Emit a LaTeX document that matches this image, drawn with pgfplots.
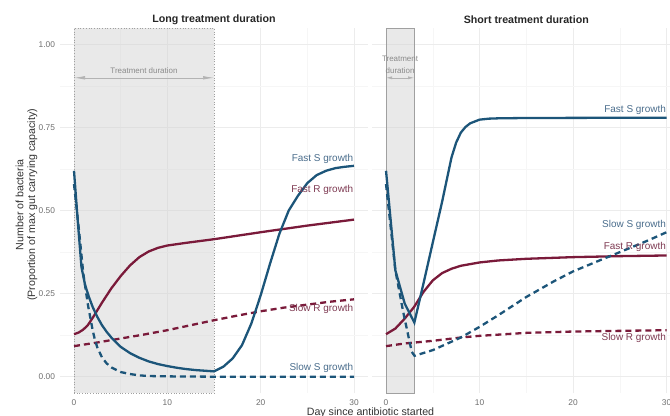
\documentclass[border=0pt]{standalone}
\usepackage{pgfplots}
\pgfplotsset{compat=1.18}
\usepackage{fontspec}
\setmainfont{Liberation Sans}
\usetikzlibrary{arrows.meta}
\definecolor{sblue}{HTML}{1C5579}
\definecolor{rred}{HTML}{7A1A3A}
\definecolor{lblue}{HTML}{4A6D8C}
\definecolor{lred}{HTML}{7E3A52}
\definecolor{ticktext}{HTML}{6E6E6E}
\definecolor{rectfill}{HTML}{D4D4D4}
\definecolor{rectline}{HTML}{A0A0A0}
\definecolor{trtext}{HTML}{8A8A8A}

\tikzset{
 sol/.style={line width=2.3bp, solid},
 dsh/.style={line width=2.3bp, dash pattern=on 6bp off 4bp},
 lab/.style={anchor=east, font=\fontsize{10}{11}\selectfont},
}
\pgfplotsset{
 panel/.style={
  scale only axis, height=365.3bp, anchor=south west,
  ymin=-0.05, ymax=1.05,
  xtick={0,10,20,30}, minor xtick={5,15,25},
  ytick={0,0.25,0.5,0.75,1}, minor ytick={0.125,0.375,0.625,0.875},
  grid=both,
  major grid style={draw=gray!15, line width=0.6bp},
  minor grid style={draw=gray!7, line width=0.5bp},
  axis line style={draw=none}, major tick style={draw=none}, minor tick style={draw=none},
  tick label style={font=\fontsize{8.4}{9}\selectfont, text=ticktext},
  /pgf/number format/assume math mode=true,
  yticklabel style={/pgf/number format/fixed, /pgf/number format/fixed zerofill, /pgf/number format/precision=2, xshift=-1.5bp},
  xticklabel style={yshift=-2.5bp},
  clip=false,
 },
}

\begin{document}
\begin{tikzpicture}
\useasboundingbox (0,0) rectangle (670bp,416bp);

% ---------------- Long treatment ----------------
\begin{axis}[panel, at={(60bp,22.7bp)}, width=308bp, xmin=-1.5, xmax=31.5]
\addplot[draw=rectline, dotted, line width=0.7bp, fill=rectfill, fill opacity=0.5]
  coordinates {(0,-0.05) (15,-0.05) (15,1.05) (0,1.05)} -- cycle;
\draw[rectline!80, line width=0.6bp, {Latex[length=11bp,width=3.5bp]}-{Latex[length=11bp,width=3.5bp]}]
  (axis cs:0,0.9) -- (axis cs:15,0.9);
\node[font=\fontsize{8}{9}\selectfont, text=trtext] at (axis cs:7.5,0.922) {Treatment duration};

% Slow R
\addplot[rred, dsh] coordinates {(0,0.092) (2.5,0.103) (5,0.115) (7.5,0.127) (10,0.14) (12.5,0.155) (15,0.17) (17.5,0.184) (20,0.197) (22.5,0.208) (25,0.217) (27.5,0.226) (30,0.233)};
% Fast R
\addplot[rred, sol] coordinates {(0,0.128) (0.5,0.133) (1,0.142) (1.5,0.156) (2,0.177) (2.5,0.2) (3,0.223) (4,0.266) (5,0.303) (6,0.335) (7,0.36) (8,0.377) (9,0.388) (10,0.395) (12,0.403) (15,0.414) (20,0.435) (25,0.455) (30,0.473)};
% Slow S
\addplot[sblue, dsh] coordinates {(0,0.58) (0.5,0.45) (1,0.31) (1.5,0.215) (2,0.14) (2.25,0.11) (2.5,0.088) (3,0.058) (3.5,0.04) (4,0.028) (5,0.014) (6,0.008) (7,0.004) (8,0.002) (10,0.001) (15,0) (30,0)};
% Fast S
\addplot[sblue, sol] coordinates {(0,0.62) (0.4,0.47) (0.8,0.33) (1.2,0.275) (1.6,0.24) (2,0.21) (2.5,0.18) (3,0.155) (3.5,0.135) (4,0.118) (5,0.09) (6,0.071) (7,0.057) (8,0.046) (9,0.038) (10,0.032) (11,0.027) (12,0.023) (13,0.02) (14,0.018) (15,0.016) (16,0.03) (17,0.055) (18,0.095) (19,0.16) (20,0.245) (21,0.34) (22,0.43) (23,0.5) (24,0.545) (25,0.583) (26,0.607) (27,0.62) (28,0.628) (29,0.632) (30,0.635)};

\node[lab, text=lblue] at (axis cs:30.3,0.655) {Fast S growth};
\node[lab, text=lred] at (axis cs:30.3,0.563) {Fast R growth};
\node[lab, text=lred] at (axis cs:30.3,0.203) {Slow R growth};
\node[lab, text=lblue] at (axis cs:30.3,0.025) {Slow S growth};
\end{axis}

% ---------------- Short treatment ----------------
\begin{axis}[panel, at={(372bp,22.7bp)}, width=298bp, xmin=-1.5, xmax=30.37, yticklabels={}]
\addplot[draw=rectline, solid, line width=0.7bp, fill=rectfill, fill opacity=0.5]
  coordinates {(0,-0.05) (3,-0.05) (3,1.05) (0,1.05)} -- cycle;
\draw[rectline!80, line width=0.6bp, {Latex[length=6bp,width=3bp]}-{Latex[length=6bp,width=3bp]}]
  (axis cs:0,0.9) -- (axis cs:3,0.9);
\node[font=\fontsize{8}{12}\selectfont, text=trtext, align=center] at (axis cs:1.5,0.939) {Treatment\\duration};

% Slow R
\addplot[rred, dsh] coordinates {(0,0.092) (2,0.1) (5,0.108) (8,0.118) (10,0.123) (15,0.132) (20,0.136) (25,0.138) (30,0.14)};
% Fast R
\addplot[rred, sol] coordinates {(0,0.128) (1,0.145) (2,0.175) (3,0.21) (4,0.255) (5,0.29) (6,0.312) (7,0.325) (8,0.334) (10,0.344) (12,0.35) (15,0.355) (20,0.36) (25,0.363) (30,0.365)};
% Slow S
\addplot[sblue, dsh] coordinates {(0,0.58) (0.5,0.45) (1,0.32) (1.85,0.193) (2.75,0.075) (3.05,0.063) (5,0.08) (8,0.118) (10,0.15) (12,0.185) (15,0.24) (18,0.288) (20,0.317) (23,0.352) (25,0.375) (28,0.41) (30,0.435)};
% Fast S
\addplot[sblue, sol] coordinates {(0,0.62) (1,0.32) (2,0.22) (3.03,0.163) (4,0.28) (5,0.404) (6,0.527) (7,0.66) (7.5,0.705) (8,0.735) (8.5,0.752) (9,0.763) (10,0.774) (11,0.777) (12,0.778) (15,0.779) (30,0.78)};

\node[lab, text=lblue] at (axis cs:30.3,0.803) {Fast S growth};
\node[lab, text=lblue] at (axis cs:30.3,0.458) {Slow S growth};
\node[lab, text=lred] at (axis cs:30.3,0.39) {Fast R growth};
\node[lab, text=lred] at (axis cs:30.3,0.118) {Slow R growth};
\end{axis}

% titles and axis labels
\node[font=\bfseries\fontsize{10.7}{12}\selectfont, text=black!85] at (214bp,396bp) {Long treatment duration};
\node[font=\bfseries\fontsize{10.7}{12}\selectfont, text=black!85] at (526.3bp,396bp) {Short treatment duration};
\node[font=\fontsize{10.7}{11.7}\selectfont, text=black!80, rotate=90, align=center] at (26.5bp,211bp) {Number of bacteria\\(Proportion of max gut carrying capacity)};
\node[font=\fontsize{10.7}{12}\selectfont, text=black!80, anchor=base] at (370.5bp,1bp) {Day since antibiotic started};
\end{tikzpicture}
\end{document}
